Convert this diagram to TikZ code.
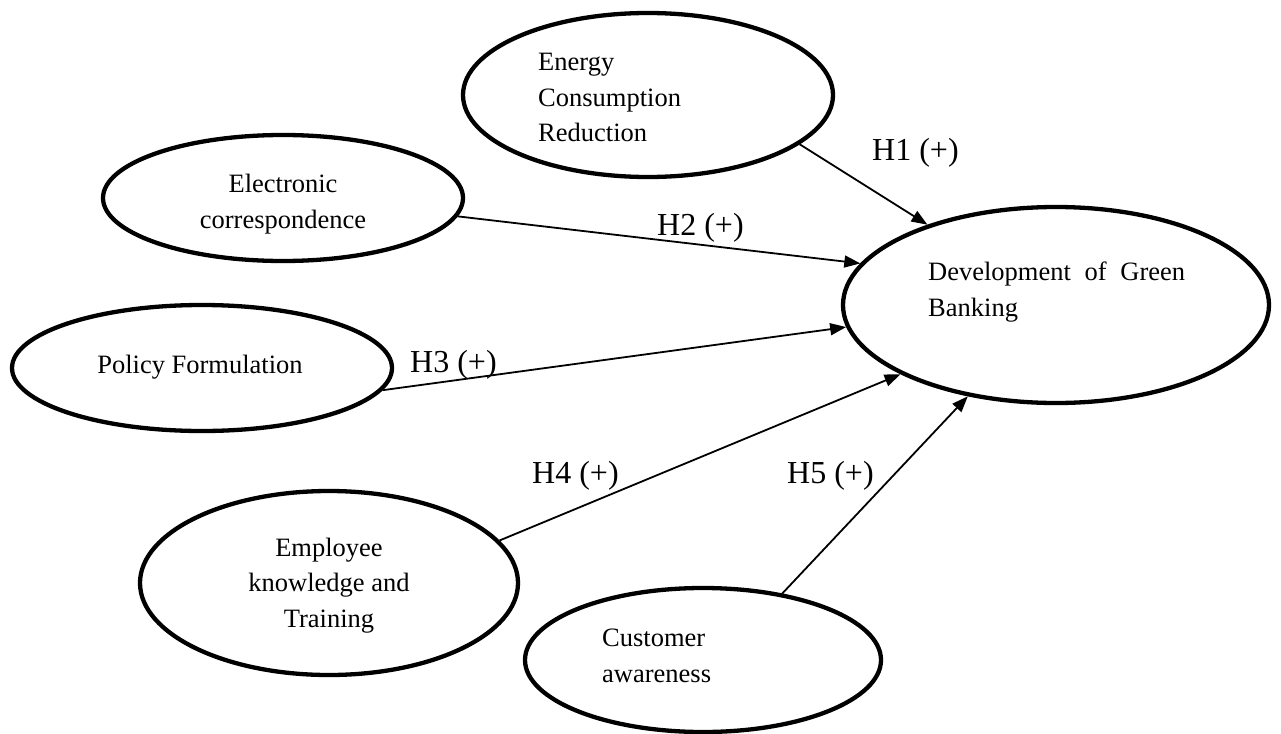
\documentclass[tikz,border=0pt]{standalone}
\usepackage{fontspec}
\setmainfont{Liberation Serif}
\usetikzlibrary{shapes.geometric,arrows.meta}
\tikzset{
  ell/.style={draw, ellipse, line width=4.3pt, inner sep=0pt},
  txt/.style={inner sep=0pt, font=\fontsize{26.5}{35.5}\selectfont},
  lbl/.style={inner sep=0pt, anchor=base west, font=\fontsize{32}{38}\selectfont},
  arr/.style={line width=1.8pt, -{Triangle[length=16pt,width=12pt]}}
}
\begin{document}
\begin{tikzpicture}[x=1pt,y=-1pt]
\useasboundingbox (0,0) rectangle (1281,733);
% ellipses
\node[ell, minimum width=370pt, minimum height=164pt] (en) at (648,95) {};
\node[ell, minimum width=360pt, minimum height=126pt] (el) at (283,198) {};
\node[ell, minimum width=426pt, minimum height=196pt] (dv) at (1056,305) {};
\node[ell, minimum width=380pt, minimum height=126pt] (po) at (202,368) {};
\node[ell, minimum width=378pt, minimum height=184pt] (em) at (329,583) {};
\node[ell, minimum width=356pt, minimum height=144pt] (cu) at (703,660) {};
% texts (base anchor = last line)
\node[txt, anchor=base west, align=left] (ten) at (538,142) {Energy\\Consumption\\Reduction};
\node[txt, anchor=base, align=center] (tel) at (283,228) {Electronic\\correspondence};
\node[txt, anchor=base west, align=left] (tdv) at (928,316) {\makebox[257pt][s]{Development of Green}\\Banking};
\node[txt, anchor=base] (tpo) at (200,373) {Policy Formulation};
\node[txt, anchor=base, align=center] (tem) at (329,627) {Employee\\knowledge and\\Training};
\node[txt, anchor=base west, align=left] (tcu) at (602,682) {Customer\\awareness};
% arrows
\draw[arr] (en.-18) -- (dv.148);
\draw[arr] (el.-6.3) -- (dv.168.9);
\draw[arr] (po.-7.6) -- (dv.-174.5);
\draw[arr] (em.14.6) -- (dv.-156.7);
\draw[arr] (cu.40) -- (dv.-134.7);
% labels
\node[lbl] (l1) at (872,160) {H1 (+)};
\node[lbl] (l2) at (657,235) {H2 (+)};
\node[lbl] (l3) at (410,372) {H3 (+)};
\node[lbl] (l4) at (532,483) {H4 (+)};
\node[lbl] (l5) at (787,483) {H5 (+)};
\end{tikzpicture}
\end{document}
